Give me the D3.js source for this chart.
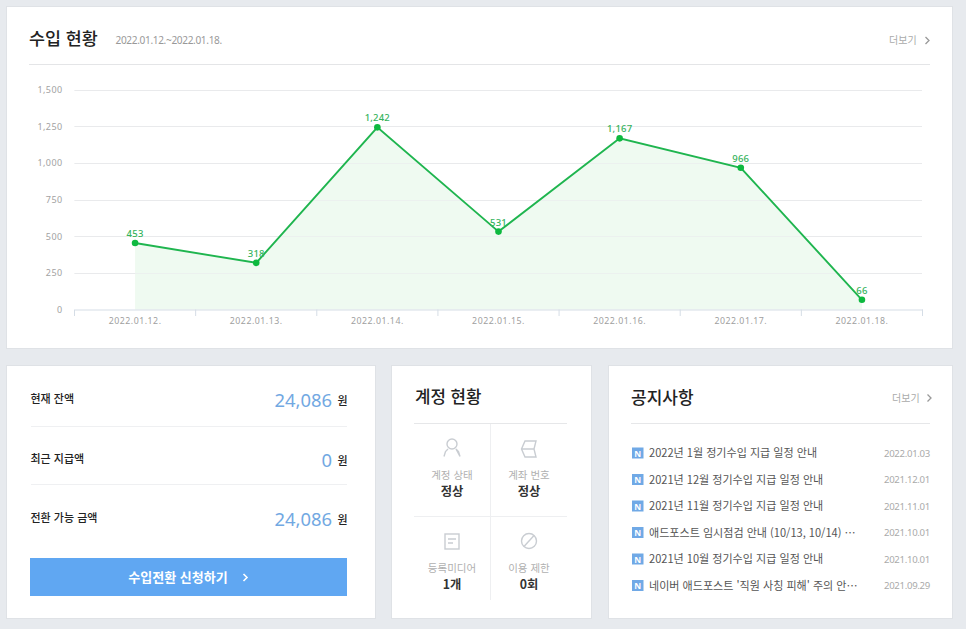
<!DOCTYPE html>
<html lang="ko">
<head>
<meta charset="utf-8">
<script src="https://cdn.jsdelivr.net/npm/d3@7/dist/d3.min.js"></script>
<style>
html,body{margin:0;padding:0;background:#e7eaee;overflow:hidden}
svg{display:block}
text{font-family:"Noto Sans CJK KR","Noto Sans",sans-serif}
</style>
</head>
<body>
<svg id="c" width="966" height="629"></svg>
<script>
const dates = ["2022.01.12.","2022.01.13.","2022.01.14.","2022.01.15.","2022.01.16.","2022.01.17.","2022.01.18."];
const revenue = [453,318,1242,531,1167,966,66];
const yTicks = [0,250,500,750,1000,1250,1500];
const balanceLabels = ["현재 잔액","최근 지급액","전환 가능 금액"];
const balanceValues = [24086,0,24086];
const statusLabels = ["계정 상태","계좌 번호","등록미디어","이용 제한"];
const statusValues = ["정상","정상","1개","0회"];
const noticeTitles = ["2022년 1월 정기수입 지급 일정 안내","2021년 12월 정기수입 지급 일정 안내","2021년 11월 정기수입 지급 일정 안내","애드포스트 임시점검 안내 (10/13, 10/14) …","2021년 10월 정기수입 지급 일정 안내","네이버 애드포스트 '직원 사칭 피해' 주의 안…"];
const noticeDates = ["2022.01.03","2021.12.01","2021.11.01","2021.10.01","2021.10.01","2021.09.29"];

const svg = d3.select("#c");
const fmt = d3.format(",");
const latin = '"Noto Sans","Noto Sans CJK KR",sans-serif';

function panel(x,y,w,h){
  svg.append("rect").attr("x",x-.5).attr("y",y-.5).attr("width",w+1).attr("height",h+1)
    .attr("fill","#fff").attr("stroke","#dfe2e6");
}
function hline(x1,x2,y,c){
  svg.append("line").attr("x1",x1).attr("x2",x2).attr("y1",y+.5).attr("y2",y+.5).attr("stroke",c||"#e6e7e9");
}
function label(x,y,s,size,fill,anchor,weight,font,ls){
  const t = svg.append("text").attr("x",x).attr("y",y).text(s)
    .attr("font-size",size).attr("fill",fill).attr("text-anchor",anchor||"start").attr("font-weight",weight||400);
  if(font) t.style("font-family",font);
  if(ls) t.attr("letter-spacing",ls);
  return t;
}
function chevron(x,y,c,w){
  svg.append("path").attr("d",`M${x},${y-3.5}L${x+3.5},${y}L${x},${y+3.5}`)
    .attr("fill","none").attr("stroke",c).attr("stroke-width",w||1.3);
}

/* panels */
panel(7,7,945,341);
panel(7,366,368,252);
panel(392,366,199,252);
panel(609,366,343,252);

/* top header */
label(29,44.5,"수입 현황",17.4,"#222","start",500);
label(115.5,44,"2022.01.12.~2022.01.18.",10.1,"#999","start",400,latin,-.35);
label(889,44,"더보기",10,"#aaa");
chevron(925.5,40.5,"#999");
hline(29,930,64,"#e4e5e7");

/* chart */
const x = d3.scaleBand().domain(dates).range([74.5,922.5]);
const y = d3.scaleLinear().domain([0,1500]).range([309.5,89.5]);
const cx = d => x(d)+x.bandwidth()/2;

const gy = svg.append("g").attr("transform","translate(74.5,0)")
  .call(d3.axisLeft(y).tickValues(yTicks).tickFormat(fmt).tickSize(0).tickPadding(12));
gy.select(".domain").remove();
gy.selectAll("text").attr("fill","#a2a2a2").style("font-family",latin).attr("font-size",9).attr("letter-spacing",.4);
svg.append("g").selectAll("line").data(yTicks.filter(d=>d>0)).join("line")
  .attr("x1",74.5).attr("x2",922).attr("y1",d=>Math.round(y(d))+.5).attr("y2",d=>Math.round(y(d))+.5)
  .attr("stroke","#e9eaec");

const series = dates.map((d,i)=>({d,v:revenue[i]}));
svg.append("path").datum(series).attr("fill","#effaf1")
  .attr("d",d3.area().x(p=>cx(p.d)).y0(y(0)).y1(p=>y(p.v)));
svg.selectAll(".grid2").data(yTicks.filter(d=>d>0)).join("line")
  .attr("x1",74.5).attr("x2",922).attr("y1",d=>Math.round(y(d))+.5).attr("y2",d=>Math.round(y(d))+.5)
  .attr("stroke","#e9eaec").attr("stroke-opacity",.55);

const gx = svg.append("g").attr("transform","translate(0,309.5)")
  .call(d3.axisBottom(x).tickSize(0).tickPadding(8));
gx.select(".domain").attr("stroke","#d5dde6");
gx.selectAll("text").attr("fill","#a0a0a0").style("font-family",latin).attr("font-size",8.8).attr("letter-spacing",.5);
svg.append("g").selectAll("line").data(d3.range(dates.length+1)).join("line")
  .attr("x1",i=>x.range()[0]+i*x.bandwidth()).attr("x2",i=>x.range()[0]+i*x.bandwidth())
  .attr("y1",309.5).attr("y2",316).attr("stroke","#d5dde6");

svg.append("path").datum(series).attr("fill","none").attr("stroke","#1fb54f").attr("stroke-width",1.9)
  .attr("d",d3.line().x(p=>cx(p.d)).y(p=>y(p.v)));
svg.append("g").selectAll("circle").data(series).join("circle")
  .attr("cx",p=>cx(p.d)).attr("cy",p=>y(p.v)).attr("r",3.3).attr("fill","#0db93f");
svg.append("g").selectAll("text").data(series).join("text")
  .attr("x",p=>cx(p.d)).attr("y",p=>y(p.v)-6).attr("text-anchor","middle").text(p=>fmt(p.v))
  .attr("font-size",9.5).attr("fill","#35b35c").attr("font-weight",500).attr("letter-spacing",.2).style("font-family",latin);

/* balance panel */
const rowY = [398,458,517];
balanceLabels.forEach((s,i)=>{
  label(30.5,rowY[i]+5,s,11,"#222","start",500);
  label(332,rowY[i]+9,fmt(balanceValues[i]),18.4,"#72a8e2","end",400,latin);
  label(347.5,rowY[i]+7,"원",11,"#222","end",500);
});
hline(31,347,426,"#eff0f2");
hline(31,347,484,"#eff0f2");
svg.append("rect").attr("x",30).attr("y",558).attr("width",317).attr("height",38).attr("fill","#60a7f2");
label(178,582,"수입전환 신청하기",13,"#fff","middle",700);
chevron(243.5,577.5,"#fff",1.6);

/* status panel */
label(415,403,"계정 현황",16.8,"#222","start",500);
hline(414,567,423,"#e6e7e9");
hline(414,567,516,"#eeeff1");
svg.append("line").attr("x1",490.5).attr("x2",490.5).attr("y1",424).attr("y2",600).attr("stroke","#eeeff1");
const statusX = [452,529,452,529];
const statusY = [475.5,475.5,568.5,568.5];
statusLabels.forEach((s,i)=>{
  label(statusX[i],statusY[i]+3,s,10.5,"#b0b0b0","middle");
  label(statusX[i],statusY[i]+20.5,statusValues[i],12.3,"#333","middle",700);
});
const icon = svg.append("g").attr("fill","none").attr("stroke","#c9cdd2").attr("stroke-width",1.4);
icon.append("circle").attr("cx",452).attr("cy",444).attr("r",5);
icon.append("path").attr("d","M444,456.5L445.5,451.5L448,449M456,449L458.5,451.5L460,456.5Z");
icon.append("path").attr("d","M525,441H536L534,449L536,457H525L521.5,449ZM522,449H534");
icon.append("rect").attr("x",445).attr("y",534).attr("width",14).attr("height",15);
icon.append("path").attr("d","M448,539H456M448,543H453");
icon.append("circle").attr("cx",529).attr("cy",541).attr("r",7.5);
icon.append("path").attr("d","M524,546.5L534,535.5");

/* notices */
label(631,403.5,"공지사항",17,"#222","start",500);
label(892,402,"더보기",10,"#aaa");
chevron(927.5,398,"#999");
hline(631,930,423,"#e6e7e9");
const noticeY = [453,479.5,506,532.5,559,585.5];
noticeTitles.forEach((s,i)=>{
  const yy = noticeY[i];
  svg.append("rect").attr("x",632).attr("y",yy-5.5).attr("width",11.5).attr("height",11).attr("fill","#70a9e6");
  label(637.8,yy+3.5,"N",8.5,"#fff","middle",700,latin);
  label(649,yy+4,s,11.05,"#555");
  label(930,yy+3.5,noticeDates[i],9.6,"#aaa","end",400,latin,-.3);
});
</script>
</body>
</html>
